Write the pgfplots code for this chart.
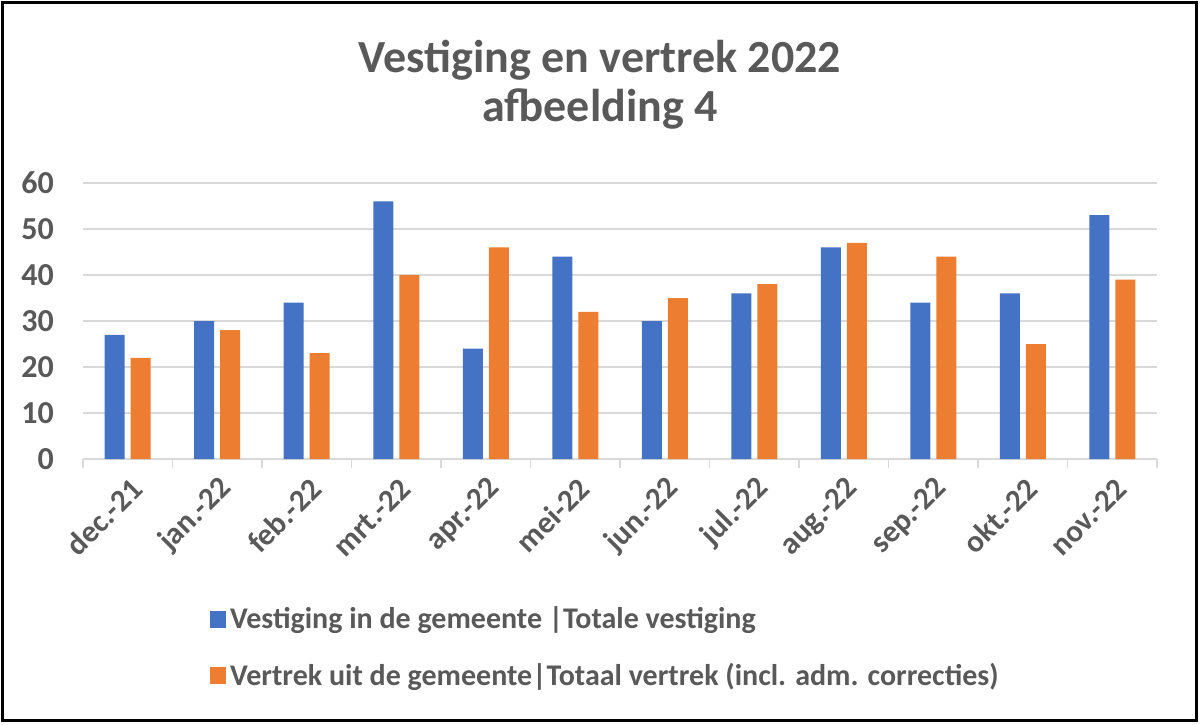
\documentclass[border=0pt]{standalone}
\usepackage{pgfplots}
\pgfplotsset{compat=1.18}
\usepackage{fontspec}
\setmainfont{Carlito}
\definecolor{txt}{HTML}{595959}
\definecolor{gridc}{HTML}{D9D9D9}
\definecolor{cblue}{HTML}{4472C4}
\definecolor{corange}{HTML}{ED7D31}
\begin{document}
\begin{tikzpicture}
\useasboundingbox (-41.5pt,-132.5pt) rectangle (558.5pt,229.5pt);
\draw[line width=1.5pt] (-40.25pt,-130.5pt) rectangle (556.75pt,228.25pt);
\node[font=\fontsize{23}{26}\selectfont\bfseries, text=txt] at (258.5pt,199.5pt) {Vestiging en vertrek 2022};
\node[font=\fontsize{23}{26}\selectfont\bfseries, text=txt] at (258.5pt,175pt) {afbeelding 4};
\begin{axis}[
  at={(0pt,0pt)}, anchor=south west,
  scale only axis, width=537pt, height=138pt,
  xmin=-0.5, xmax=11.5, ymin=0, ymax=60,
  ytick={0,10,...,60},
  xtick={0,...,11},
  xticklabels={dec.-21,jan.-22,feb.-22,mrt.-22,apr.-22,mei-22,jun.-22,jul.-22,aug.-22,sep.-22,okt.-22,nov.-22},
  minor xtick={-0.5,0.5,...,11.5},
  major tick length=0pt,
  minor tick length=4.5pt,
  tick align=outside,
  xtick style={draw=none},
  minor x tick style={draw=gridc, line width=0.75pt},
  ytick style={draw=none},
  ymajorgrids, grid style={gridc, line width=0.75pt},
  axis x line*=bottom,
  axis y line*=left,
  y axis line style={draw=none},
  x axis line style={gridc, line width=0.75pt, -},
  ticklabel style={font=\fontsize{16}{18}\selectfont\bfseries, text=txt},
  yticklabel style={xshift=-11pt},
  xticklabel style={rotate=45, anchor=east, yshift=-12pt, xshift=-2pt, font=\fontsize{15.5}{18}\selectfont\bfseries},
  /pgf/number format/assume math mode=true,
  clip=false,
  legend style={at={(0.118,-0.52)}, anchor=north west, draw=none, fill=none,
    font=\fontsize{15}{18}\selectfont\bfseries, text=txt, row sep=11.5pt, inner sep=0pt,
    nodes={inner xsep=2pt}},
  legend cell align=left,
  legend image code/.code={\fill[#1] (0pt,-4.25pt) rectangle (8pt,4.25pt);},
]
\addplot[ybar, fill=cblue, draw=none, bar width=10pt, bar shift=-6.5pt] coordinates {
(0,27) (1,30) (2,34) (3,56) (4,24) (5,44) (6,30) (7,36) (8,46) (9,34) (10,36) (11,53)};
\addlegendentry{Vestiging in de gemeente |Totale vestiging}
\addplot[ybar, fill=corange, draw=none, bar width=10pt, bar shift=6.5pt] coordinates {
(0,22) (1,28) (2,23) (3,40) (4,46) (5,32) (6,35) (7,38) (8,47) (9,44) (10,25) (11,39)};
\addlegendentry{Vertrek uit de gemeente|Totaal vertrek (incl. adm. correcties)}
\end{axis}
\end{tikzpicture}
\end{document}
